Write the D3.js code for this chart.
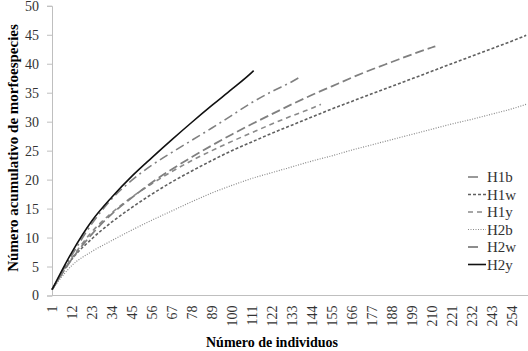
<html>
<head>
<script src="https://d3js.org/d3.v7.min.js"></script>
<style>
  body { margin: 0; background: #fff; }
  text { font-family: "Liberation Serif", "Times New Roman", serif; }
</style>
</head>
<body>
<script>
// categories shown on the x axis
const xTicks = [1, 12, 23, 34, 45, 56, 67, 78, 89, 100, 111, 122, 133, 144, 155, 166, 177, 188, 199, 210, 221, 232, 243, 254];
const yTicks = [0, 5, 10, 15, 20, 25, 30, 35, 40, 45, 50];
const seriesNames = ["H1b", "H1w", "H1y", "H2b", "H2w", "H2y"];

// [individuos, morfoespecies]
const h1b = [[1, 1], [12, 7.0], [23, 12.4], [34, 16.7], [45, 19.9], [56, 22.5], [67, 24.7], [78, 26.8], [89, 28.9], [100, 31.1], [111, 33.3], [122, 35.2], [133, 36.9], [138, 37.8]];
const h1w = [[1, 1], [12, 6.3], [23, 9.8], [34, 12.7], [45, 15.2], [56, 17.5], [67, 19.6], [78, 21.5], [89, 23.3], [100, 25.0], [111, 26.5], [122, 28.0], [133, 29.4], [144, 30.8], [155, 32.2], [166, 33.5], [177, 34.8], [188, 36.1], [199, 37.4], [210, 38.7], [221, 40.0], [232, 41.3], [243, 42.6], [254, 43.9], [262, 44.9]];
const h1y = [[1, 1], [12, 6.5], [23, 11.0], [34, 14.3], [45, 17.0], [56, 19.3], [67, 21.4], [78, 23.3], [89, 25.0], [100, 26.6], [111, 28.1], [122, 29.6], [133, 31.0], [144, 32.3], [149, 33.0]];
const h2b = [[1, 1], [12, 5.2], [23, 7.6], [34, 9.5], [45, 11.3], [56, 13.0], [67, 14.6], [78, 16.2], [89, 17.7], [100, 19.0], [111, 20.2], [122, 21.2], [133, 22.2], [144, 23.2], [155, 24.1], [166, 25.1], [177, 26.0], [188, 26.9], [199, 27.8], [210, 28.7], [221, 29.6], [232, 30.4], [243, 31.3], [254, 32.2], [262, 33.0]];
const h2w = [[1, 1], [12, 6.3], [23, 10.6], [34, 14.1], [45, 16.9], [56, 19.5], [67, 21.8], [78, 23.9], [89, 25.9], [100, 27.8], [111, 29.6], [122, 31.3], [133, 33.0], [144, 34.6], [155, 36.1], [166, 37.6], [177, 39.0], [188, 40.3], [199, 41.6], [210, 42.8], [212, 43.0]];
const h2y = [[1, 1], [12, 7.5], [23, 12.9], [34, 17.0], [45, 20.6], [56, 23.8], [67, 26.9], [78, 29.9], [89, 32.8], [100, 35.6], [111, 38.5], [112, 38.8]];

const seriesData = [h1b, h1w, h1y, h2b, h2w, h2y];
const styles = [
  { color: "#808080", dash: "9,4,2,4", legDash: "10,10", width: 1.6 },
  { color: "#606060", dash: "3,2", legDash: "3,2", width: 1.6 },
  { color: "#8a8a8a", dash: "5,4", legDash: "5,4", width: 1.6 },
  { color: "#8a8a8a", dash: "1,1.5", legDash: "1,1.5", width: 1.2 },
  { color: "#808080", dash: "9,4", legDash: "10,10", width: 1.8 },
  { color: "#111111", dash: null, legDash: null, width: 1.6 }
];

const w = 528, h = 351;
const svg = d3.select("body").append("svg").attr("width", w).attr("height", h);

const x = d3.scaleLinear().domain([1, 263]).range([52, 528]);
const y = d3.scaleLinear().domain([0, 50]).range([295.5, 5.8]);

// y axis
const yAxis = svg.append("g")
  .attr("transform", "translate(52,0)")
  .call(d3.axisLeft(y).tickValues(yTicks).tickSize(5).tickPadding(8));
yAxis.select(".domain").attr("stroke", "#bfbfbf");
yAxis.selectAll(".tick line").attr("stroke", "#bfbfbf");
yAxis.selectAll("text").attr("font-size", 14).attr("fill", "#333")
  .style("font-family", "'Liberation Serif', serif");

// x axis
const xAxis = svg.append("g")
  .attr("transform", "translate(0,295.5)")
  .call(d3.axisBottom(x).tickValues(xTicks).tickSize(0).tickFormat(d3.format("d")));
xAxis.select(".domain").attr("stroke", "#bfbfbf").attr("d", "M52,0H528");
xAxis.selectAll("text")
  .attr("font-size", 14).attr("fill", "#333")
  .style("font-family", "'Liberation Serif', serif")
  .attr("text-anchor", "end")
  .attr("transform", "rotate(-90)")
  .attr("x", -10).attr("y", 0).attr("dy", "0.35em");

// curves
const line = d3.line().x(d => x(d[0])).y(d => y(d[1])).curve(d3.curveMonotoneX);
svg.selectAll("path.serie")
  .data(seriesData)
  .enter().append("path")
  .attr("class", "serie")
  .attr("d", line)
  .attr("fill", "none")
  .attr("stroke", (d, i) => styles[i].color)
  .attr("stroke-width", (d, i) => styles[i].width)
  .attr("stroke-dasharray", (d, i) => styles[i].dash);

// legend
const legend = svg.selectAll("g.leg")
  .data(seriesNames)
  .enter().append("g")
  .attr("class", "leg")
  .attr("transform", (d, i) => "translate(468," + (177 + i * 17.5) + ")");
legend.append("line")
  .attr("x1", 0).attr("x2", 18)
  .attr("stroke", (d, i) => styles[i].color)
  .attr("stroke-width", (d, i) => styles[i].width)
  .attr("stroke-dasharray", (d, i) => styles[i].legDash);
legend.append("text")
  .attr("x", 19).attr("dy", "0.35em")
  .attr("font-size", 15).attr("fill", "#333")
  .text(d => d);

// titles
svg.append("text")
  .attr("x", 272).attr("y", 347)
  .attr("text-anchor", "middle")
  .attr("font-size", 14).attr("font-weight", "bold")
  .text("Número de individuos");
svg.append("text")
  .attr("transform", "translate(13,148) rotate(-90)")
  .attr("text-anchor", "middle")
  .attr("dy", "0.35em")
  .attr("font-size", 15).attr("font-weight", "bold")
  .text("Número acumulativo de morfoespecies");
</script>
</body>
</html>
